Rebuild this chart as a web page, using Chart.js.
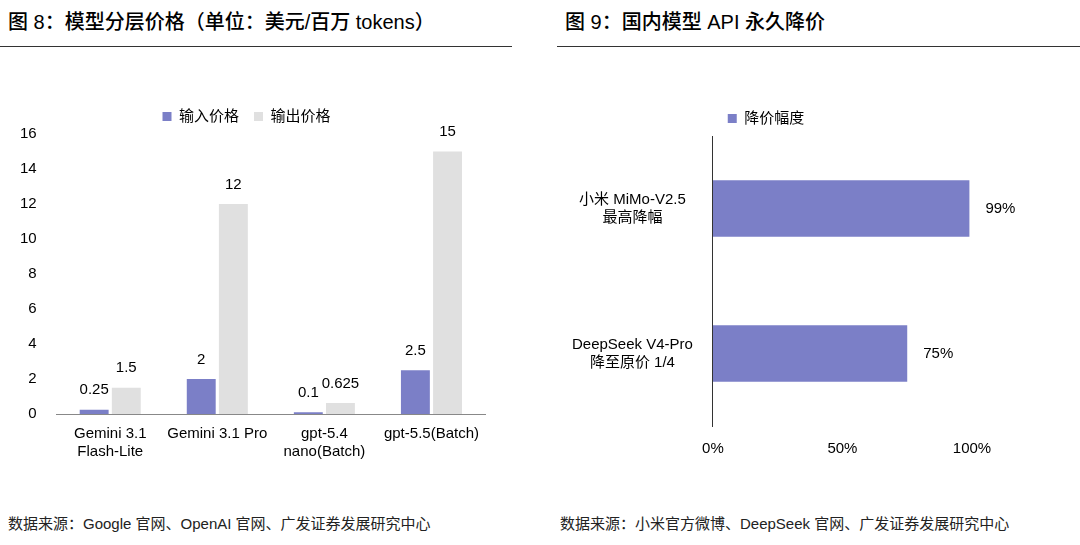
<!DOCTYPE html>
<html lang="zh">
<head>
<meta charset="UTF-8">
<title>模型分层价格 / 国内模型 API 永久降价</title>
<style>
  body { margin:0; width:1080px; height:545px; background:#fff; position:relative; overflow:hidden;
         font-family:"Liberation Sans","Noto Sans CJK SC",sans-serif; color:#000; }
  .title { position:absolute; top:6px; font-size:20px; font-weight:500; }
  .rule { position:absolute; top:46px; height:0; border-top:1.5px solid #333; }
  .src { position:absolute; top:512px; font-size:15px; color:#222; }
  .box { position:absolute; }
</style>
</head>
<body>
<div class="title" style="left:8px">图 8：模型分层价格（单位：美元/百万 tokens）</div>
<div class="rule" style="left:0;width:512px"></div>
<div class="title" style="left:565px">图 9：国内模型 API 永久降价</div>
<div class="rule" style="left:557px;width:523px"></div>

<div class="box" style="left:0;top:94px;width:500px;height:370px"><canvas id="left"></canvas></div>
<div class="box" style="left:550px;top:106px;width:510px;height:358px"><canvas id="right"></canvas></div>

<div class="src" style="left:8px">数据来源：Google 官网、OpenAI 官网、广发证券发展研究中心</div>
<div class="src" style="left:560px">数据来源：小米官方微博、DeepSeek 官网、广发证券发展研究中心</div>

<script src="https://cdn.jsdelivr.net/npm/chart.js"></script>
<script>
    var models = [['Gemini 3.1', 'Flash-Lite'], 'Gemini 3.1 Pro', ['gpt-5.4', 'nano(Batch)'], 'gpt-5.5(Batch)'];
    var inputPrice = [0.25, 2, 0.1, 2.5];
    var outputPrice = [1.5, 12, 0.625, 15];

    var cnModels = [['小米 MiMo-V2.5', '最高降幅'], ['DeepSeek V4-Pro', '降至原价 1/4']];
    var cutRate = [99, 75];

    var purple = '#7b7fc7';
    var grey = '#e0e0e0';
    var font = { family: '"Liberation Sans","Noto Sans CJK SC",sans-serif', size: 15 };
    Chart.defaults.font = font;
    Chart.defaults.color = '#000';

    // draws the value next to each bar
    var valueLabels = {
        id: 'valueLabels',
        afterDatasetsDraw: function (chart, args, opts) {
            var ctx = chart.ctx;
            ctx.save();
            ctx.font = '15px ' + font.family;
            ctx.fillStyle = '#000';
            chart.data.datasets.forEach(function (ds, i) {
                chart.getDatasetMeta(i).data.forEach(function (bar, j) {
                    var v = ds.data[j];
                    if (opts.horizontal) {
                        ctx.textAlign = 'left';
                        ctx.textBaseline = 'middle';
                        ctx.fillText(v + '%', bar.x + 16, bar.y);
                    } else {
                        ctx.textAlign = 'center';
                        ctx.textBaseline = 'bottom';
                        ctx.fillText(String(v), bar.x, bar.y - 12);
                    }
                });
            });
            ctx.restore();
        }
    };

    new Chart(document.getElementById('left'), {
        type: 'bar',
        data: {
            labels: models,
            datasets: [
                { label: '输入价格', data: inputPrice, backgroundColor: purple },
                { label: '输出价格', data: outputPrice, backgroundColor: grey }
            ]
        },
        options: {
            responsive: true, maintainAspectRatio: false, animation: false,
            datasets: { bar: { categoryPercentage: 0.6, barPercentage: 0.9 } },
            layout: { padding: { right: 15, left: 8 } },
            plugins: {
                legend: { labels: { boxWidth: 9, boxHeight: 9, padding: 15 } },
                tooltip: { enabled: false },
                valueLabels: {}
            },
            scales: {
                x: { grid: { display: false }, border: { color: '#888' }, ticks: { maxRotation: 0 } },
                y: { min: 0, max: 16, ticks: { stepSize: 2, padding: 12 }, grid: { display: false }, border: { display: false } }
            }
        },
        plugins: [valueLabels]
    });

    new Chart(document.getElementById('right'), {
        type: 'bar',
        data: {
            labels: cnModels,
            datasets: [{ label: '降价幅度', data: cutRate, backgroundColor: purple }]
        },
        options: {
            indexAxis: 'y',
            responsive: true, maintainAspectRatio: false, animation: false,
            datasets: { bar: { categoryPercentage: 0.39, barPercentage: 1 } },
            layout: { padding: { right: 88, left: 10 } },
            plugins: {
                legend: { labels: { boxWidth: 9, boxHeight: 9, padding: 3 } },
                tooltip: { enabled: false },
                valueLabels: { horizontal: true }
            },
            scales: {
                x: { min: 0, max: 100, ticks: { stepSize: 50, callback: function (v) { return v + '%'; }, padding: 6 },
                     grid: { display: false }, border: { display: false } },
                y: { grid: { display: false }, border: { color: '#333' }, ticks: { padding: 12, crossAlign: 'center' } }
            }
        },
        plugins: [valueLabels]
    });
</script>
</body>
</html>
